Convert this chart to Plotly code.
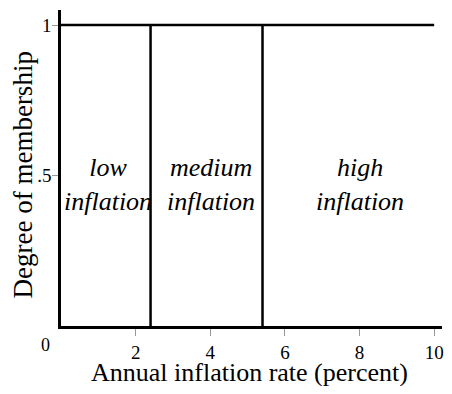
import plotly.graph_objects as go

# Data
boundaries = [2.4, 5.4]
x_max = 10
membership_top = 1
set_labels = ["low<br>inflation", "medium<br>inflation", "high<br>inflation"]
label_x = [1.26, 4.01, 8.01]
label_y = [0.47, 0.47, 0.47]
x_ticks = [2, 4, 6, 8, 10]
y_ticks = [0.5, 1]
y_ticktext = [".5", "1"]
x_title = "Annual inflation rate (percent)"
y_title = "Degree of membership"

SERIF = "Liberation Serif, Times New Roman, serif"

fig = go.Figure()
line_style = dict(color="black", width=2.5)
fig.add_trace(go.Scatter(x=[0, x_max], y=[membership_top, membership_top], mode="lines",
                         line=line_style, showlegend=False, hoverinfo="skip"))
for b in boundaries:
    fig.add_trace(go.Scatter(x=[b, b], y=[0, membership_top], mode="lines",
                             line=line_style, showlegend=False, hoverinfo="skip"))

for t, xx, yy in zip(set_labels, label_x, label_y):
    fig.add_annotation(x=xx, y=yy, text=t, showarrow=False,
                       font=dict(family=SERIF, size=26, color="black", style="italic"))

fig.add_annotation(x=0, y=0, text="0", showarrow=False, xshift=-16, yshift=-19,
                   font=dict(family=SERIF, size=18, color="black"))

fig.add_annotation(x=5.05, xref="x", y=0, yref="paper", yshift=-46, yanchor="middle",
                   text=x_title, showarrow=False,
                   font=dict(family=SERIF, size=26, color="black"))
fig.add_annotation(x=0, xref="paper", xshift=-38, xanchor="center", y=0.5, yref="y",
                   text=y_title, textangle=-90, showarrow=False,
                   font=dict(family=SERIF, size=27, color="black"))

fig.update_layout(
    width=436, height=378,
    margin=dict(l=53, r=2, t=2, b=60),
    plot_bgcolor="white", paper_bgcolor="white",
    font=dict(family=SERIF, color="black"),
    xaxis=dict(range=[0, 10.21], tickvals=x_ticks, showgrid=False, zeroline=False,
               showline=True, linecolor="black", linewidth=2.5, automargin=False,
               ticks="outside", ticklen=7, tickcolor="#999", tickwidth=1,
               ticklabelstandoff=0, ticklabeloverflow="allow",
               tickfont=dict(size=19, family=SERIF, color="black")),
    yaxis=dict(range=[0, 1.05], tickvals=y_ticks, ticktext=y_ticktext, showgrid=False, zeroline=False,
               showline=True, linecolor="black", linewidth=2.5, automargin=False,
               ticks="outside", ticklen=6, tickcolor="#999", tickwidth=1,
               ticklabelstandoff=-3,
               tickfont=dict(size=19, family=SERIF, color="black")),
)
fig.write_html("out.html")
